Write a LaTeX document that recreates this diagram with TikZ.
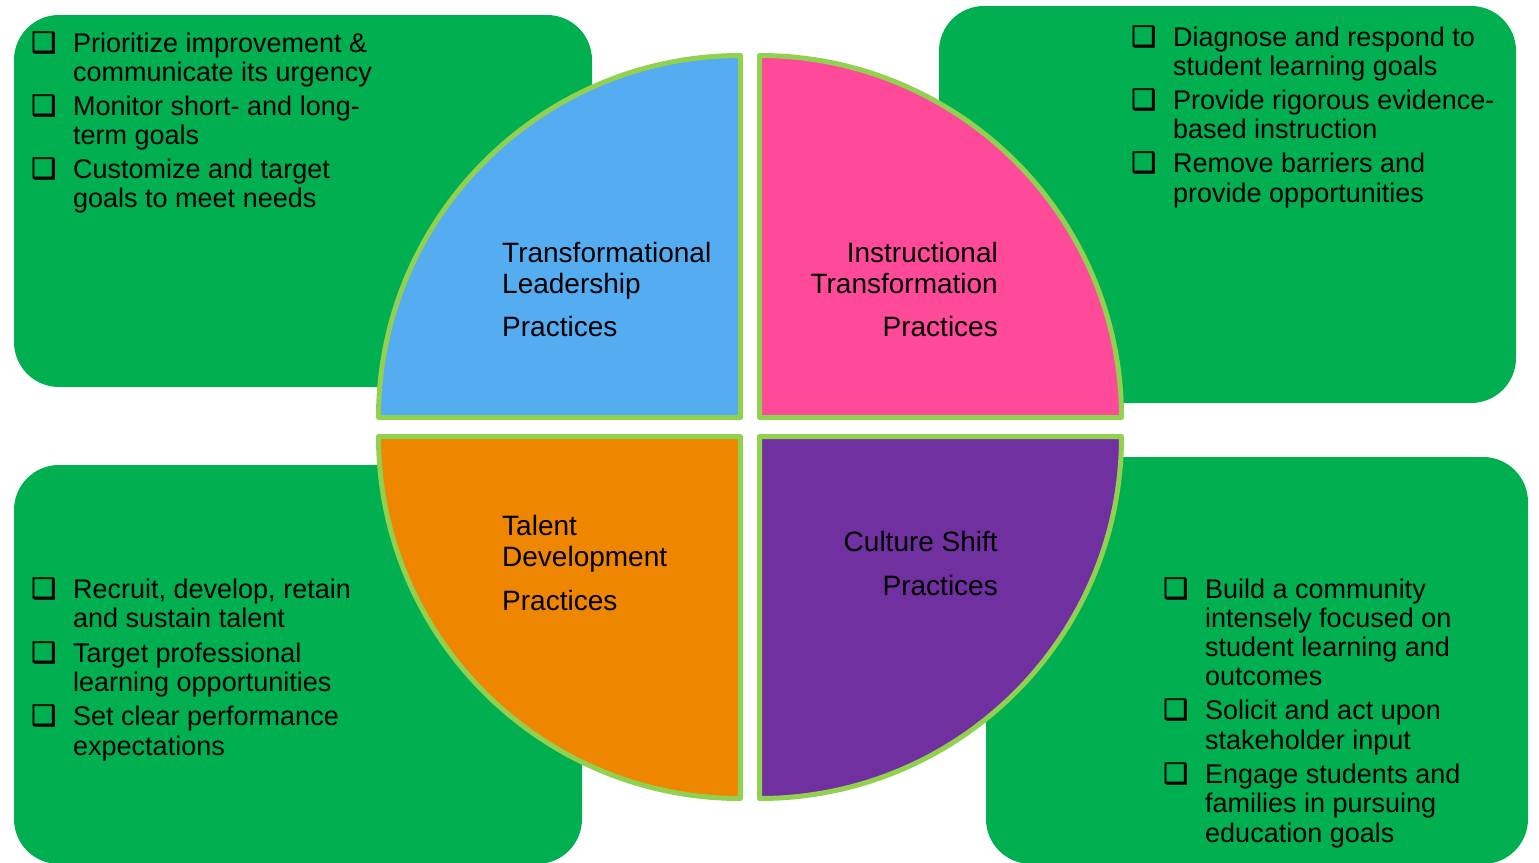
\documentclass[tikz,border=0pt]{standalone}
\usepackage{fontspec}
\setmainfont{Liberation Sans}
\newfontfamily\chkfamily{DejaVu Sans}[FakeBold=2]
\definecolor{boxgreen}{HTML}{00B050}
\definecolor{rimgreen}{HTML}{92D050}
\definecolor{qblue}{HTML}{55ADF1}
\definecolor{qpink}{HTML}{FF4A9A}
\definecolor{qorange}{HTML}{EE8600}
\definecolor{qpurple}{HTML}{7030A0}
\tikzset{
  greenbox/.style={fill=boxgreen, draw=none, rounded corners=45pt},
  quad/.style={draw=rimgreen, line width=5pt, line join=round},
  btxt/.style={font=\fontsize{27}{30}\selectfont, anchor=base west, inner sep=0pt},
  qtxtl/.style={font=\fontsize{28}{31}\selectfont, anchor=base west, inner sep=0pt},
  qtxtr/.style={font=\fontsize{28}{31}\selectfont, anchor=base east, inner sep=0pt},
  chk/.style={font=\chkfamily\fontsize{28}{30}\selectfont, anchor=base west, inner sep=0pt}
}
\begin{document}
\begin{tikzpicture}[x=1pt,y=1pt]
\useasboundingbox[fill=white] (0,0) rectangle (1539,-862);
% green boxes
\fill[greenbox] (14,-15) rectangle (592,-387);
\fill[greenbox] (939,-6) rectangle (1516,-403);
\fill[greenbox] (14,-465) rectangle (582,-864);
\fill[greenbox] (986,-457) rectangle (1528,-864);
% quadrants
\filldraw[quad, fill=qblue] (740.5,-417.5) -- (740.5,-55.5) arc[start angle=90, end angle=180, radius=362pt] -- cycle;
\filldraw[quad, fill=qpink] (759.5,-417.5) -- (759.5,-55.5) arc[start angle=90, end angle=0, radius=362pt] -- cycle;
\filldraw[quad, fill=qorange] (740.5,-436.5) -- (740.5,-798.5) arc[start angle=270, end angle=180, radius=362pt] -- cycle;
\filldraw[quad, fill=qpurple] (759.5,-436.5) -- (759.5,-798.5) arc[start angle=270, end angle=360, radius=362pt] -- cycle;
% quadrant texts
\node[qtxtl] (q1a) at (502,-262) {Transformational};
\node[qtxtl] (q1b) at (502,-293) {Leadership};
\node[qtxtl] (q1c) at (502,-336) {Practices};
\node[qtxtr] (q2a) at (998,-262) {Instructional};
\node[qtxtr] (q2b) at (998,-293) {Transformation};
\node[qtxtr] (q2c) at (998,-336) {Practices};
\node[qtxtl] (q3a) at (502,-535) {Talent};
\node[qtxtl] (q3b) at (502,-566) {Development};
\node[qtxtl] (q3c) at (502,-610) {Practices};
\node[qtxtr] (q4a) at (998,-551) {Culture Shift};
\node[qtxtr] (q4b) at (998,-595) {Practices};
% top-left list
\node[chk] (c11) at (31,-52) {❑};
\node[chk] (c12) at (31,-115) {❑};
\node[chk] (c13) at (31,-178) {❑};
\node[btxt] (t11) at (73,-52) {Prioritize improvement \&};
\node[btxt] (t12) at (73,-81) {communicate its urgency};
\node[btxt] (t13) at (73,-115) {Monitor short- and long-};
\node[btxt] (t14) at (73,-144) {term goals};
\node[btxt] (t15) at (73,-178) {Customize and target};
\node[btxt] (t16) at (73,-207) {goals to meet needs};
% top-right list
\node[chk] (c21) at (1131,-46) {❑};
\node[chk] (c22) at (1131,-109) {❑};
\node[chk] (c23) at (1131,-172) {❑};
\node[btxt] (t21) at (1173,-46) {Diagnose and respond to};
\node[btxt] (t22) at (1173,-75) {student learning goals};
\node[btxt] (t23) at (1173,-109) {Provide rigorous evidence-};
\node[btxt] (t24) at (1173,-138) {based instruction};
\node[btxt] (t25) at (1173,-172) {Remove barriers and};
\node[btxt] (t26) at (1173,-202) {provide opportunities};
% bottom-left list
\node[chk] (c31) at (31,-598) {❑};
\node[chk] (c32) at (31,-662) {❑};
\node[chk] (c33) at (31,-725) {❑};
\node[btxt] (t31) at (73,-598) {Recruit, develop, retain};
\node[btxt] (t32) at (73,-627) {and sustain talent};
\node[btxt] (t33) at (73,-662) {Target professional};
\node[btxt] (t34) at (73,-691) {learning opportunities};
\node[btxt] (t35) at (73,-725) {Set clear performance};
\node[btxt] (t36) at (73,-755) {expectations};
% bottom-right list
\node[chk] (c41) at (1163,-598) {❑};
\node[chk] (c42) at (1163,-719) {❑};
\node[chk] (c43) at (1163,-783) {❑};
\node[btxt] (t41) at (1205,-598) {Build a community};
\node[btxt] (t42) at (1205,-627) {intensely focused on};
\node[btxt] (t43) at (1205,-656) {student learning and};
\node[btxt] (t44) at (1205,-685) {outcomes};
\node[btxt] (t45) at (1205,-719) {Solicit and act upon};
\node[btxt] (t46) at (1205,-749) {stakeholder input};
\node[btxt] (t47) at (1205,-783) {Engage students and};
\node[btxt] (t48) at (1205,-812) {families in pursuing};
\node[btxt] (t49) at (1205,-842) {education goals};
\end{tikzpicture}
\end{document}
